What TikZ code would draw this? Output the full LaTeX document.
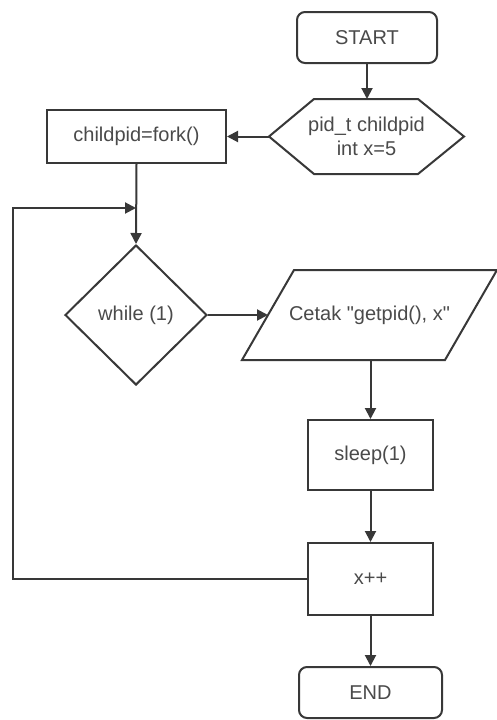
\documentclass[tikz,border=0pt]{standalone}
\usepackage{fontspec}
\setmainfont{Liberation Sans}[Ligatures=TeXOff]
\usetikzlibrary{arrows.meta,shapes.geometric,calc}

\definecolor{linec}{HTML}{383838}
\definecolor{textc}{HTML}{4A4A4A}

\tikzset{
  base/.style={draw=linec, line width=2pt, text=textc, inner sep=0pt,
               font=\fontsize{20}{24}\selectfont, align=center},
  terminal/.style={base, rectangle, rounded corners=8pt},
  procbox/.style={base, rectangle},
  decision/.style={base, diamond},
  framebox/.style={base, draw=none, rectangle},
  arr/.style={draw=linec, line width=2pt, -{Triangle[length=11pt,width=11pt]}},
  plainline/.style={draw=linec, line width=2pt, line join=miter},
}

\begin{document}
\begin{tikzpicture}[x=1pt, y=-1pt]
  \useasboundingbox[fill=white] (0,0) rectangle (496,720);

  % nodes
  \node[terminal, minimum width=140pt, minimum height=51pt] (start) at (367,37.5) {START};

  % preparation step: hexagon drawn around a frame node
  \node[framebox, minimum width=193pt, minimum height=73pt] (init) at (366.5,136.5)
       {pid\_t childpid\\int x=5};
  \draw[plainline] (init.west) -- ($(init.north west)+(45,0)$) -- ($(init.north east)+(-46,0)$)
       -- (init.east) -- ($(init.south east)+(-46,0)$) -- ($(init.south west)+(45,0)$) -- cycle;

  \node[procbox, minimum width=179pt, minimum height=53pt] (fork) at (136.5,136.5) {childpid=fork()};
  \node[decision, minimum width=142pt, minimum height=140pt] (loop) at (136,315) {while (1)};

  % output step: parallelogram drawn around a frame node
  \node[framebox, minimum width=253pt, minimum height=88pt] (print) at (369.5,315)
       {Cetak "getpid(), x"};
  \draw[plainline] ($(print.north west)+(52,0)$) -- (print.north east)
       -- ($(print.south east)+(-52,0)$) -- (print.south west) -- cycle;
  \coordinate (printin) at ($(print.west)+(26,0)$);

  \node[procbox, minimum width=125pt, minimum height=70pt] (sleep) at (370.5,455) {sleep(1)};
  \node[procbox, minimum width=125pt, minimum height=72pt] (inc) at (370.5,579) {x++};
  \node[terminal, minimum width=143pt, minimum height=51pt] (stop) at (370.5,692.5) {END};

  % helper points for the loop-back line
  \coordinate (merge) at (136,208);
  \coordinate (corner) at (13,208);

  % connectors
  \draw[arr] (start) -- (start |- init.north);
  \draw[arr] (init.west) -- (fork.east);
  \draw[arr] (fork.south) -- (loop.north);
  \draw[arr] (loop.east) -- (printin);
  \draw[arr] (print.south -| sleep.north) -- (sleep.north);
  \draw[arr] (sleep) -- (inc);
  \draw[arr] (inc) -- (stop);
  \draw[arr] (inc.west) -| (corner) -- (merge);
\end{tikzpicture}
\end{document}
